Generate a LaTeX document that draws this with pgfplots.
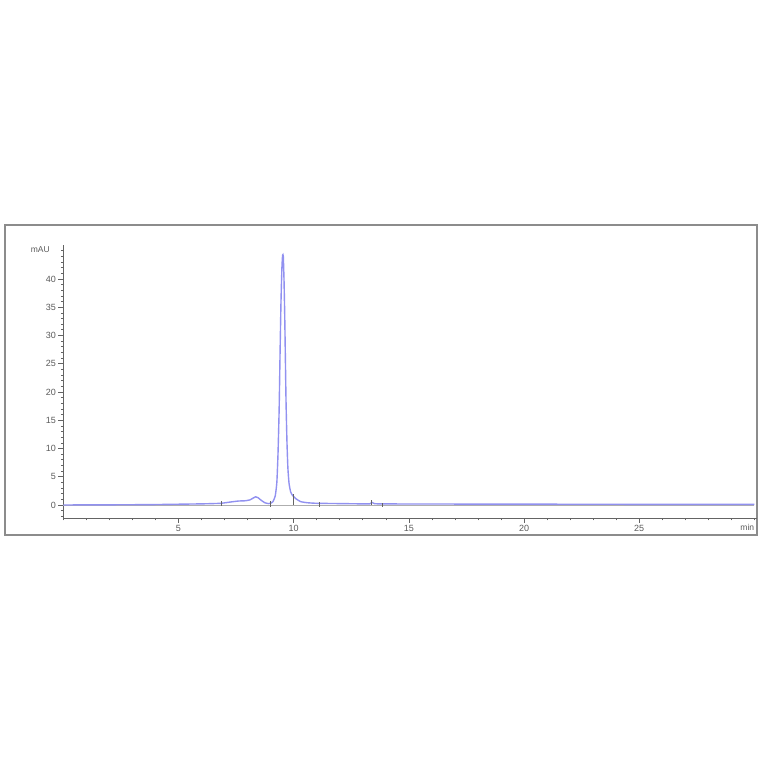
\documentclass[border=0pt]{standalone}
\usepackage{pgfplots}
\pgfplotsset{compat=1.18}
\usepackage{fontspec}
\setmainfont{Liberation Sans}
\definecolor{trace}{RGB}{145,145,240}
\definecolor{axgray}{RGB}{100,100,100}
\definecolor{framegray}{RGB}{140,140,140}
\definecolor{txtgray}{RGB}{90,90,90}

\begin{document}
\begin{tikzpicture}
  \useasboundingbox (0pt,0pt) rectangle (764pt,764pt);
  % outer frame of the report
  \draw[framegray, line width=1.2pt] (5pt,229pt) rectangle (757pt,539pt);
  \coordinate (orig) at (63.3pt,259pt);

  \begin{axis}[
      at={(orig)}, anchor=origin,
      width=693.4pt, height=273pt, scale only axis,
      xmin=0, xmax=30.1, ymin=-2.3, ymax=46,
      axis lines=left,
      axis line style={-, axgray, line width=0.8pt},
      tick align=outside,
      xtick={5,10,...,25}, ytick={0,5,...,40},
      minor xtick={0,...,30}, minor ytick={-2,...,45},
      major tick length=5pt, minor tick length=2.5pt,
      every tick/.style={axgray, line width=0.6pt},
      tick label style={font=\fontsize{9}{10}\selectfont, text=txtgray},
      /pgf/number format/assume math mode=true,
      xticklabel style={yshift=1pt},
      yticklabel style={xshift=1pt},
      clip=false,
    ]

    %% --- baseline (integration) ---
    \addplot[framegray!70, line width=0.5pt] coordinates {(0,0) (30,0)};

    %% --- detector trace ---
    \addplot[trace, line width=1.4pt, smooth, tension=0.3] coordinates {
      (0,0.0) (1,0.02) (2,0.03) (3,0.05) (4,0.08) (5,0.14) (5.5,0.17)
      (6,0.2) (6.5,0.25) (6.85,0.3) (7.0,0.38) (7.3,0.55) (7.6,0.7)
      (7.9,0.75) (8.1,0.9) (8.25,1.25) (8.35,1.45) (8.45,1.3) (8.6,0.8)
      (8.75,0.4) (8.9,0.25) (9.0,0.3) (9.1,0.6) (9.2,1.6) (9.27,4)
      (9.32,9) (9.37,17) (9.41,27) (9.45,36) (9.49,42) (9.52,44.2)
      (9.55,44) (9.58,40) (9.61,34) (9.64,26) (9.67,18) (9.71,11)
      (9.75,6.5) (9.8,3.8) (9.87,2.3) (9.95,1.7) (10.0,1.5) (10.1,1.1)
      (10.3,0.6) (10.6,0.4) (11,0.3) (12,0.25) (13,0.2) (13.3,0.2)
      (13.4,0.45) (13.5,0.25) (13.7,0.2) (15,0.18) (20,0.15) (25,0.12)
      (30,0.1)
    };

    %% --- peak event marks ---
    \addplot[axgray, line width=0.5pt] coordinates {(6.85,-0.1) (6.85,0.7)};
    \addplot[axgray, line width=0.5pt] coordinates {(9.0,-0.3) (9.0,0.7)};
    \addplot[axgray, line width=0.5pt] coordinates {(10.0,0) (10.0,1.9)};
    \addplot[axgray, line width=0.5pt] coordinates {(11.1,-0.3) (11.1,0.5)};
    \addplot[axgray, line width=0.5pt] coordinates {(13.37,0) (13.37,0.8)};
    \addplot[axgray, line width=0.5pt] coordinates {(13.85,-0.3) (13.85,0.4)};

    %% --- axis units ---
    \node[anchor=east, font=\fontsize{8.5}{10}\selectfont, text=txtgray]
      at (axis cs:0,45.1) [xshift=-10pt] {mAU};
    \node[anchor=north east, font=\fontsize{8.5}{10}\selectfont, text=txtgray]
      at (axis cs:30.1,-2.3) [yshift=-3pt, xshift=1pt] {min};
  \end{axis}
\end{tikzpicture}
\end{document}
